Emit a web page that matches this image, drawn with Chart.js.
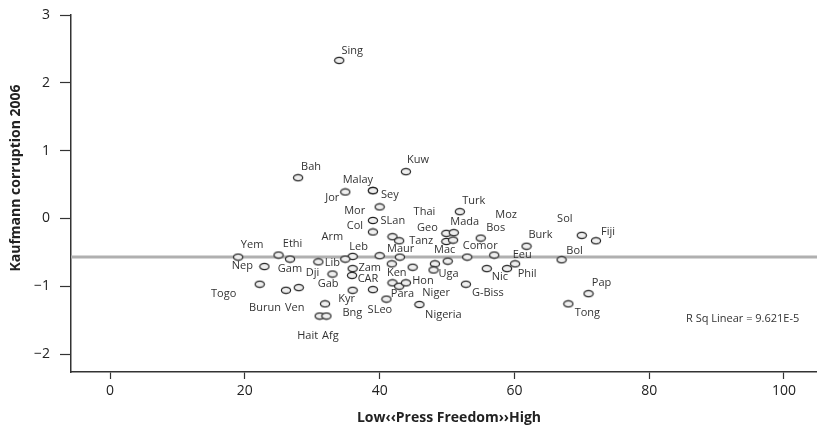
<!DOCTYPE html>
<html>
<head>
<meta charset="utf-8">
<script src="https://cdn.jsdelivr.net/npm/chart.js@4"></script>
<style>
  body { margin: 0; background: #fff; }
  #wrap { width: 817px; height: 429px; }
</style>
</head>
<body>
<div id="wrap"><canvas id="chart" width="817" height="429"></canvas></div>
<script>
// Country abbreviations ('' = point without a label)
const countries = [
    'Sing', 'Bah', 'Kuw', 'Malay', 'Sey', 'Jor', 'Mor', 'SLan', 'Col', 'Thai',
    'Tanz', 'Turk', 'Geo', 'Mada', '', 'Moz', 'Bos', 'Burk', 'Sol', 'Fiji',
    'Bol', 'Comor', 'Eeu', 'Mac', '', 'Maur', 'Leb', 'Arm', 'Lib', 'Yem',
    'Ethi', 'Gam', 'Nep', 'Zam', 'CAR', 'Dji', 'Ken', '', '', 'Uga',
    'Nic', '', 'Phil', 'Para', 'Niger', 'Hon', 'G-Biss', 'Togo', 'Burun', 'Ven',
    'Gab', 'Hait', 'Afg', 'Kyr', 'SLeo', 'Bng', 'Nigeria', 'Tong', 'Pap'
];

// Press freedom score (x)
const pressFreedom = [
    34.0, 27.9, 43.9, 39.0, 39.0, 34.9, 40.0, 39.0, 39.0, 41.9,
    42.9, 51.9, 49.9, 51.0, 49.9, 50.9, 55.0, 61.8, 70.0, 72.1,
    67.0, 53.0, 57.0, 50.1, 43.0, 40.0, 36.0, 34.9, 30.9, 19.0,
    25.0, 26.7, 22.9, 36.0, 35.9, 33.0, 41.8, 44.9, 48.2, 48.0,
    55.9, 58.9, 60.1, 41.9, 42.9, 43.9, 52.8, 22.2, 26.1, 28.0,
    31.9, 31.1, 32.1, 36.0, 39.0, 41.0, 45.9, 68.0, 71.0
];

// Kaufmann corruption 2006 (y)
const corruption = [
    2.33, 0.60, 0.69, 0.41, 0.41, 0.39, 0.17, -0.03, -0.20, -0.27,
    -0.33, 0.10, -0.22, -0.21, -0.34, -0.32, -0.29, -0.41, -0.25, -0.33,
    -0.61, -0.57, -0.54, -0.63, -0.57, -0.55, -0.56, -0.60, -0.64, -0.57,
    -0.54, -0.60, -0.71, -0.74, -0.84, -0.82, -0.67, -0.72, -0.67, -0.76,
    -0.74, -0.74, -0.67, -0.95, -1.00, -0.95, -0.97, -0.97, -1.06, -1.02,
    -1.26, -1.44, -1.44, -1.06, -1.05, -1.19, -1.27, -1.26, -1.11
];

const xTicks = [0, 20, 40, 60, 80, 100];
const yTicks = [-2, -1, 0, 1, 2, 3];

// linear fit (practically flat)
const fitX = [-5.8, 104.9];
const fitY = [-0.57, -0.57];
const rSquared = '9.621E-5';

// where each label sits relative to its point, in pixels (label centre)
const labelOffsets = {
    Sing: [13, -10], Bah: [13, -11], Kuw: [12, -12], Malay: [-15, -11], Sey: [17, 4],
    Jor: [-13, 6], Mor: [-25, 4], SLan: [20, 0], Col: [-18, -6], Thai: [32, -25],
    Tanz: [22, 0], Turk: [14, -11], Geo: [-19, -5], Mada: [11, -11], Moz: [53, -25],
    Bos: [15, -10], Burk: [14, -11], Sol: [-17, -17], Fiji: [12, -9], Bol: [13, -9],
    Comor: [13, -11], Eeu: [28, 0], Mac: [-3, -11], Maur: [21, -7], Leb: [6, -10],
    Arm: [-13, -22], Lib: [14, 1], Yem: [14, -12], Ethi: [14, -11], Gam: [0, 10],
    Nep: [-22, -1], Zam: [17, -1], CAR: [16, 3], Dji: [-20, -1], Ken: [5, 9],
    Uga: [15, 4], Nic: [13, 8], Phil: [12, 10], Para: [10, 11], Niger: [37, 7],
    Hon: [17, -2], 'G-Biss': [22, 9], Togo: [-36, 10], Burun: [-21, 18], Ven: [-4, 20],
    Gab: [3, -20], Hait: [-12, 20], Afg: [4, 20], Kyr: [-6, 9], SLeo: [7, 20],
    Bng: [-34, 14], Nigeria: [24, 10], Tong: [19, 9], Pap: [13, -11]
};

const axisColor = '#333';
const textFont = '"Open Sans", "DejaVu Sans", sans-serif';

// small open ellipse used as marker
function makeMarker() {
    const c = document.createElement('canvas');
    c.width = 12;
    c.height = 9;
    const g = c.getContext('2d');
    g.beginPath();
    g.ellipse(6, 4.5, 4.6, 3.1, 0, 0, Math.PI * 2);
    g.fillStyle = '#efefef';
    g.fill();
    g.lineWidth = 1.2;
    g.strokeStyle = '#222';
    g.stroke();
    return c;
}

const labelsPlugin = {
    id: 'pointLabels',
    afterDatasetsDraw(chart) {
        const ctx = chart.ctx;
        const meta = chart.getDatasetMeta(0);
        ctx.save();
        ctx.font = '11px ' + textFont;
        ctx.fillStyle = '#333';
        ctx.textAlign = 'center';
        ctx.textBaseline = 'middle';
        meta.data.forEach((pt, i) => {
            const name = countries[i];
            if (!name) return;
            const off = labelOffsets[name] || [12, -10];
            ctx.fillText(name, pt.x + off[0], pt.y + off[1]);
        });

        // fit statistic, lower right
        ctx.textAlign = 'left';
        ctx.fillText('R Sq Linear = ' + rSquared, 686, 319);

        // axis titles
        ctx.font = 'bold 14px ' + textFont;
        ctx.fillStyle = '#222';
        ctx.textAlign = 'center';
        ctx.fillText('Low\u2039\u2039Press Freedom\u203A\u203AHigh', 449, 418);
        ctx.translate(16, 178);
        ctx.rotate(-Math.PI / 2);
        ctx.fillText('Kaufmann corruption 2006', 0, 0);
        ctx.restore();
    }
};

const fmt = v => (v < 0 ? '\u2212' + Math.abs(v) : String(v));

new Chart(document.getElementById('chart'), {
    type: 'scatter',
    data: {
        datasets: [
            {
                label: 'Countries',
                data: pressFreedom.map((x, i) => ({ x: x, y: corruption[i] })),
                pointStyle: makeMarker(),
                pointRadius: 5
            },
            {
                type: 'line',
                label: 'Fit',
                data: fitX.map((x, i) => ({ x: x, y: fitY[i] })),
                borderColor: '#b0b0b0',
                borderWidth: 3,
                pointRadius: 0,
                fill: false
            }
        ]
    },
    options: {
        responsive: false,
        animation: false,
        events: [],
        layout: {
            autoPadding: false,
            padding: { top: 15, right: 0, left: 0, bottom: 0 }
        },
        plugins: {
            legend: { display: false },
            tooltip: { enabled: false }
        },
        scales: {
            x: {
                type: 'linear',
                min: fitX[0],
                max: fitX[1],
                afterBuildTicks: axis => { axis.ticks = xTicks.map(v => ({ value: v })); },
                afterFit: axis => {
                    axis.height = 57;
                    axis.paddingLeft = 0;
                    axis.paddingRight = 0;
                },
                grid: { drawOnChartArea: false, tickLength: 7, tickColor: axisColor, tickWidth: 1.2 },
                border: { color: axisColor, width: 1.5 },
                ticks: {
                    font: { family: textFont, size: 14 },
                    color: '#222',
                    padding: 4,
                    maxRotation: 0,
                    callback: v => fmt(v)
                }
            },
            y: {
                min: -2.265,
                max: 3,
                afterBuildTicks: axis => { axis.ticks = yTicks.map(v => ({ value: v })); },
                afterFit: axis => {
                    axis.width = 71;
                    axis.paddingTop = 0;
                    axis.paddingBottom = 0;
                },
                grid: { drawOnChartArea: false, tickLength: 11, tickColor: axisColor, tickWidth: 1.2 },
                border: { color: axisColor, width: 1.5 },
                ticks: {
                    font: { family: textFont, size: 14 },
                    color: '#222',
                    padding: 10,
                    callback: v => fmt(v)
                }
            }
        }
    },
    plugins: [labelsPlugin]
});
</script>
</body>
</html>
